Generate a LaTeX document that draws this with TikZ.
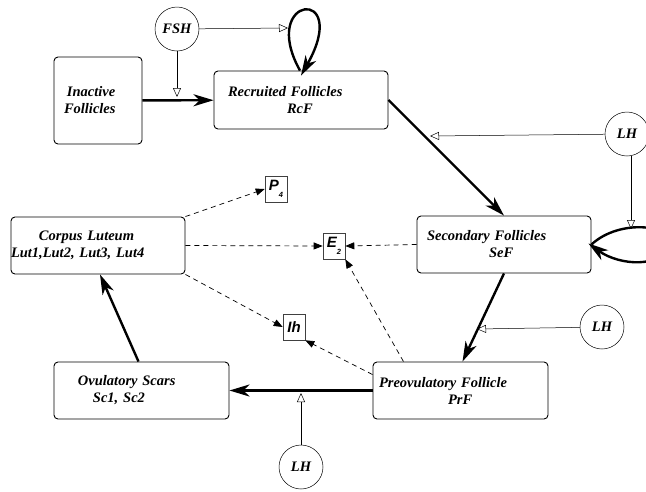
\documentclass[tikz,border=0pt]{standalone}
\usepackage{fontspec}
\setmainfont{Liberation Serif}
\setsansfont{Liberation Sans}
\usetikzlibrary{arrows.meta}
\newcommand{\hsub}[2]{#1\raisebox{-7pt}{\fontsize{7.5}{7.5}\selectfont #2}}

\begin{document}
\begin{tikzpicture}[x=1pt, y=-1pt,
    stage/.style={rectangle, rounded corners=4pt, draw, line width=0.9pt, inner xsep=0pt, align=left, font=\fontsize{14.5}{17}\selectfont\bfseries\itshape},
    hormone/.style={circle, draw, line width=0.5pt, minimum size=44pt, inner sep=0pt, font=\fontsize{14.5}{15}\selectfont\bfseries\itshape},
    steroid/.style={rectangle, draw=black!75, line width=0.6pt, minimum width=22pt, minimum height=26pt, inner sep=0pt, font=\sffamily\bfseries\itshape\fontsize{15}{15}\selectfont},
    flow/.style={-{Stealth[length=20pt,width=12pt,inset=6pt]}, line width=2.4pt},
    act/.style={-{Triangle[open,length=9pt,width=8pt]}, line width=0.5pt},
    secr/.style={-{Triangle[length=9pt,width=7pt]}, line width=0.7pt, dash pattern=on 5pt off 4pt}]

    \useasboundingbox (0,0) rectangle (646,491);

    \node [stage, text width=88pt, minimum height=87pt] (inact) at (98,100.5) {\hspace*{13pt}Inactive\\\hspace*{10pt}Follicles};
    \node [stage, text width=174pt, minimum height=58pt] (rcf) at (301,100) {\hspace*{14pt}Recruited Follicles\\\hspace*{73pt}RcF};
    \node [stage, text width=174pt, minimum height=57pt] (sef) at (504,244.5) {\hspace*{10pt}Secondary Follicles\\\hspace*{72pt}SeF};
    \node [stage, text width=175pt, minimum height=57pt] (prf) at (460.5,390.5) {\hspace*{6pt}Preovulatory Follicle\\\hspace*{75pt}PrF};
    \node [stage, text width=175pt, minimum height=57pt] (ovs) at (141.5,390.5) {\hspace*{24pt}Ovulatory Scars\\\hspace*{39pt}Sc1, Sc2};
    \node [stage, text width=174pt, minimum height=57pt] (cl) at (98,245.5) {\hspace*{28pt}Corpus Luteum\\Lut1,Lut2, Lut3, Lut4};

    \node [hormone] (fsh) at (177,29) {FSH};
    \node [hormone] (lhA) at (627,134) {LH};
    \node [hormone] (lhB) at (602,327) {LH};
    \node [hormone] (lhC) at (301,467) {LH};

    \node [steroid] (p4) at (276,189) {\hsub{P}{4}};
    \node [steroid] (e2) at (334,246) {\hsub{E}{2}};
    \node [steroid] (ih) at (294,327) {Ih};

    \coordinate (fshDown) at (177,97);
    \coordinate (fshRight) at (288,28);
    \coordinate (lhAleft) at (430,136);
    \coordinate (lhAdown) at (631,229);
    \coordinate (lhBleft) at (477,329);
    \coordinate (lhCup) at (301,393);

    \draw [flow] (inact) -- (rcf);
    \draw [flow] (rcf.east) -- (sef.north);
    \draw [flow] (sef.south) -- ([xshift=2pt]prf.north);
    \draw [flow] (prf) -- (ovs);
    \draw [flow] ([xshift=-3pt]ovs.north) -- ([xshift=2pt]cl.south);
    \draw [flow] ([xshift=-1pt]rcf.north) .. controls (258,-5) and (352,-15) .. ([yshift=-5pt]rcf.north);
    \draw [flow] (sef.east) .. controls (620,218) and (675,225) .. (668,245) .. controls (662,268) and (620,266) .. ([xshift=-3pt,yshift=1pt]sef.east);

    \draw [act] (fsh) -- (fshDown);
    \draw [act] (fsh) -- (fshRight);
    \draw [act] (lhA) -- (lhAleft);
    \draw [act] ([xshift=4pt]lhA.south) -- (lhAdown);
    \draw [act] (lhB) -- (lhBleft);
    \draw [act] (lhC) -- (lhCup);

    \draw [secr] (cl.north east) -- (p4.west);
    \draw [secr] (cl.east) -- (e2.west);
    \draw [secr] (cl.south east) -- (ih.west);
    \draw [secr] (sef.west) -- (e2.east);
    \draw [secr] ([xshift=-57pt]prf.north) -- (e2.south east);
    \draw [secr] ([yshift=-13pt]prf.north west) -- (ih.south east);
\end{tikzpicture}
\end{document}
